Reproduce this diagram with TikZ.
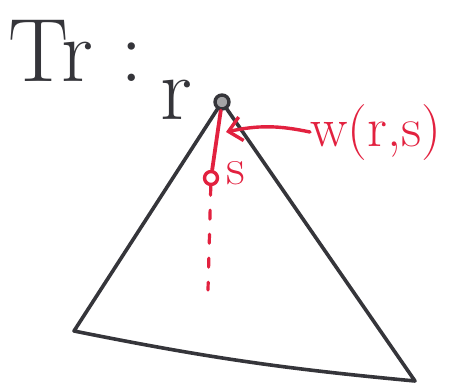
\documentclass[tikz,border=0pt]{standalone}
\usepackage{xcolor}
\usepackage{tikz}
\usetikzlibrary{arrows.meta}
\definecolor{penBlack}{HTML}{35353A}
\definecolor{penRed}{HTML}{E2213F}

\begin{document}
\begin{tikzpicture}[x=1pt,y=-1pt,line cap=round,line join=round]
\useasboundingbox (0,0) rectangle (467,386);
% title
\node[penBlack,anchor=base west,inner sep=0,font=\fontsize{90}{90}\selectfont] (title) at (8,81) {Tr :};
\node[penBlack,anchor=base west,inner sep=0,font=\fontsize{90}{90}\selectfont] (rLabel) at (160,119) {r};
% tree
\node[circle,draw=penBlack,fill=penBlack!45,line width=3.4pt,minimum size=14pt,inner sep=0] (root) at (222,102) {};
\coordinate (leftFoot) at (74,331);
\coordinate (rightFoot) at (415,381);
\draw[penBlack,line width=3.6pt] (root) -- (leftFoot) to[bend right=3] (rightFoot) -- (root);
% path to s
\node[circle,draw=penRed,fill=white,line width=3.4pt,minimum size=13pt,inner sep=0] (s) at (211,178) {};
\coordinate (dashEnd) at (208,290);
\draw[penRed,line width=3.8pt] (root) -- (s);
\draw[penRed,line width=3.2pt,dash pattern=on 9pt off 15pt] (s) -- (dashEnd);
\node[penRed,anchor=base west,inner sep=0,font=\fontsize{52}{52}\selectfont] (sLabel) at (226,184) {s};
% weight
\node[penRed,anchor=base west,inner sep=0,font=\fontsize{56}{56}\selectfont] (weight) at (310,146) {w(r,s)};
\coordinate (edgeTip) at (226,132);
\draw[penRed,line width=3.4pt,-{Straight Barb[length=13pt,width=24pt,line width=3.4pt]}] (weight.west) to[bend right=12] (edgeTip);
\end{tikzpicture}
\end{document}
